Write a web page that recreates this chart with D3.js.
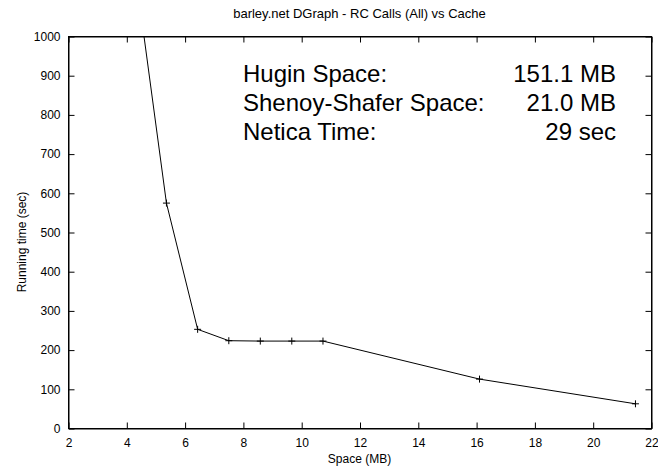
<!DOCTYPE html>
<html>
<head>
<meta charset="utf-8">
<script src="https://cdn.jsdelivr.net/npm/d3@7"></script>
<style>
  body { margin: 0; background: #fff; }
  svg text { font-family: "Liberation Sans", Arial, sans-serif; fill: #000; }
  .axis path, .axis line { stroke: #000; }
</style>
</head>
<body>
<div id="chart"></div>
<script>
// cache size (MB) vs running time (sec)
const spaceMB = [4.29, 5.36, 6.43, 7.50, 8.58, 9.66, 10.73, 16.10, 21.45];
const runTime = [1166, 575, 253, 224, 223, 223, 223, 126, 63];

const xTicks = [2, 4, 6, 8, 10, 12, 14, 16, 18, 20, 22];
const yTicks = [0, 100, 200, 300, 400, 500, 600, 700, 800, 900, 1000];

const statLabels = ['Hugin Space:', 'Shenoy-Shafer Space:', 'Netica Time:'];
const statValues = ['151.1 MB', '21.0 MB', '29 sec'];

const title = 'barley.net DGraph - RC Calls (All) vs Cache';
const xLabel = 'Space (MB)';
const yLabel = 'Running time (sec)';

const width = 658, height = 468;
const margin = {top: 36, right: 7, bottom: 40, left: 68};
const w = width - margin.left - margin.right;
const h = height - margin.top - margin.bottom;

const svg = d3.select('#chart').append('svg')
    .attr('width', width)
    .attr('height', height);

const chart = svg.append('g')
    .attr('transform', `translate(${margin.left + 0.5}, ${margin.top + 0.5})`);

const xScale = d3.scaleLinear().domain([2, 22]).range([0, w]);
const yScale = d3.scaleLinear().domain([0, 1000]).range([h, 0]);

// ticks point inward, mirrored on top and right like gnuplot
const axisFont = 12;
chart.append('g')
    .attr('class', 'axis')
    .attr('transform', `translate(0, ${h})`)
    .call(d3.axisBottom(xScale).tickValues(xTicks).tickFormat(d3.format('d')).tickSize(-6).tickPadding(8).tickSizeOuter(0))
    .call(g => g.selectAll('text').attr('font-size', axisFont).attr('dy', '0.9em'))
    .call(g => g.attr('font-family', null));
chart.append('g')
    .attr('class', 'axis')
    .call(d3.axisLeft(yScale).tickValues(yTicks).tickFormat(d3.format('d')).tickSize(-6).tickPadding(8).tickSizeOuter(0))
    .call(g => g.selectAll('text').attr('font-size', axisFont))
    .call(g => g.attr('font-family', null));
chart.append('g')
    .attr('class', 'axis')
    .call(d3.axisTop(xScale).tickValues(xTicks).tickSize(-6).tickFormat('').tickSizeOuter(0));
chart.append('g')
    .attr('class', 'axis')
    .attr('transform', `translate(${w}, 0)`)
    .call(d3.axisRight(yScale).tickValues(yTicks).tickSize(-6).tickFormat('').tickSizeOuter(0));

chart.append('defs').append('clipPath')
    .attr('id', 'plot-clip')
    .append('rect')
    .attr('width', w)
    .attr('height', h);

const data = spaceMB.map((x, i) => ({x: x, y: runTime[i]}));

const line = d3.line()
    .x(d => xScale(d.x))
    .y(d => yScale(d.y));

const plot = chart.append('g').attr('clip-path', 'url(#plot-clip)');

plot.append('path')
    .datum(data)
    .attr('d', line)
    .attr('fill', 'none')
    .attr('stroke', '#000')
    .attr('stroke-width', 1);

const m = 3.5;
plot.selectAll('.pt')
    .data(data)
    .join('path')
    .attr('class', 'pt')
    .attr('d', d => {
        const cx = xScale(d.x), cy = yScale(d.y);
        return `M${cx - m},${cy}H${cx + m}M${cx},${cy - m}V${cy + m}`;
    })
    .attr('stroke', '#000')
    .attr('stroke-width', 1);

// frame
chart.append('rect')
    .attr('width', w)
    .attr('height', h)
    .attr('fill', 'none')
    .attr('stroke', '#000')
    .attr('stroke-width', 1);

// stats box
const stats = svg.append('g').attr('font-size', 24);
statLabels.forEach((s, i) => {
    stats.append('text')
        .attr('x', 243)
        .attr('y', 81.5 + i * 29.3)
        .text(s);
    stats.append('text')
        .attr('x', 616)
        .attr('y', 81.5 + i * 29.3)
        .attr('text-anchor', 'end')
        .text(statValues[i]);
});

svg.append('text')
    .attr('x', margin.left + w / 2)
    .attr('y', 18)
    .attr('text-anchor', 'middle')
    .attr('font-size', 13)
    .text(title);

svg.append('text')
    .attr('x', margin.left + w / 2)
    .attr('y', 463)
    .attr('text-anchor', 'middle')
    .attr('font-size', 12)
    .text(xLabel);

svg.append('text')
    .attr('transform', `translate(26, 242) rotate(-90)`)
    .attr('text-anchor', 'middle')
    .attr('font-size', 12)
    .text(yLabel);
</script>
</body>
</html>
